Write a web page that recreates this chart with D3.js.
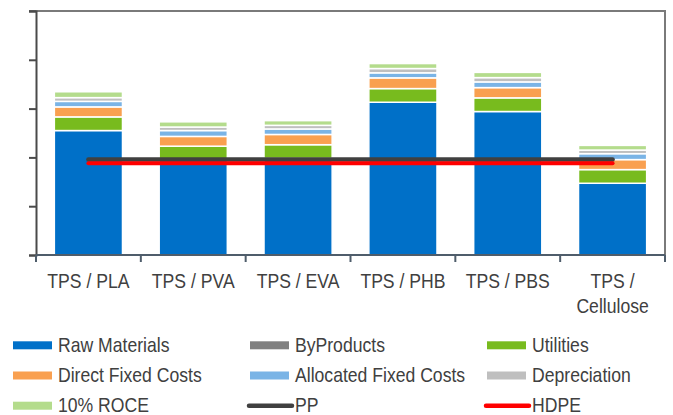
<!DOCTYPE html>
<html>
<head>
<meta charset="utf-8">
<script src="https://cdn.jsdelivr.net/npm/d3@7"></script>
<style>
  body { margin: 0; background: #fff; }
  text { font-family: "Liberation Sans", Arial, sans-serif; fill: #404040; }
</style>
</head>
<body>
<svg id="chart" width="673" height="415"></svg>
<script>
var categories = ["TPS / PLA", "TPS / PVA", "TPS / EVA", "TPS / PHB", "TPS / PBS", "TPS / Cellulose"];

var rawMaterials   = [2.55, 1.95, 1.98, 3.13, 2.94, 1.47];
var byProducts     = [0, 0, 0, 0, 0, 0];
var utilities      = [0.28, 0.28, 0.28, 0.28, 0.28, 0.28];
var directFixed    = [0.205, 0.20, 0.21, 0.22, 0.21, 0.205];
var allocatedFixed = [0.113, 0.12, 0.113, 0.103, 0.117, 0.121];
var depreciation   = [0.077, 0.072, 0.074, 0.088, 0.088, 0.074];
var roce           = [0.12, 0.107, 0.096, 0.102, 0.107, 0.096];

var pp   = [1.957, 1.957, 1.957, 1.957, 1.957, 1.957];
var hdpe = [1.881, 1.881, 1.881, 1.881, 1.881, 1.881];

var yTicks = [0, 1, 2, 3, 4, 5];

var series = [
  {key: "Raw Materials", values: rawMaterials, color: "#0070c8"},
  {key: "ByProducts", values: byProducts, color: "#808080"},
  {key: "Utilities", values: utilities, color: "#78bb1e"},
  {key: "Direct Fixed Costs", values: directFixed, color: "#f9a050"},
  {key: "Allocated Fixed Costs", values: allocatedFixed, color: "#7ab4e6"},
  {key: "Depreciation", values: depreciation, color: "#bfbfbf"},
  {key: "10% ROCE", values: roce, color: "#b4dc8c"}
];
var lines = [
  {key: "PP", values: pp, color: "#404040", width: 4.5},
  {key: "HDPE", values: hdpe, color: "#ff0000", width: 4}
];

var margin = {t: 11, r: 8, b: 160, l: 36};
var width = 673, height = 415;
var svg = d3.select("#chart");
var squeeze = 0.88; // narrow text look

var x = d3.scaleBand().domain(categories).range([margin.l, width - margin.r]).paddingInner(0.35).paddingOuter(0.175);
var y = d3.scaleLinear().domain([0, 5]).range([height - margin.b, margin.t]);

// rows for stacking
var rows = categories.map(function(c, i) {
  var r = {cat: c};
  series.forEach(function(s) { r[s.key] = s.values[i]; });
  return r;
});
var stacked = d3.stack().keys(series.map(function(s) { return s.key; }))(rows);

// frame (top + right)
svg.append("path")
  .attr("d", "M" + (margin.l - 7) + "," + y(5) + "H" + (width - margin.r) + "V" + y(0))
  .attr("fill", "none").attr("stroke", "#7a7a7a").attr("stroke-width", 2);

svg.selectAll(".layer").data(stacked).enter().append("g")
  .attr("class", "layer")
  .attr("fill", function(d, i) { return series[i].color; })
  .selectAll("rect").data(function(d) { return d; }).enter().append("rect")
  .attr("x", function(d) { return x(d.data.cat); })
  .attr("width", x.bandwidth())
  .attr("y", function(d) { return y(d[1]); })
  .attr("height", function(d) { return Math.max(0, y(d[0]) - y(d[1])); })
  .attr("stroke", "#fff").attr("stroke-width", function(d) { return d[1] - d[0] > 0 ? 1.5 : 0; });

// axes
var yAxis = svg.append("g").attr("transform", "translate(" + margin.l + ",0)")
  .call(d3.axisLeft(y).tickValues(yTicks).tickSize(7).tickFormat(""));
yAxis.selectAll("line, path").attr("stroke", "#4a4a4a").attr("stroke-width", 2);

var xTickPos = d3.range(categories.length + 1).map(function(i) { return margin.l + i * (width - margin.r - margin.l) / categories.length; });
var xAxis = svg.append("g");
xAxis.append("line").attr("x1", margin.l).attr("x2", width - margin.r).attr("y1", y(0)).attr("y2", y(0))
  .attr("stroke", "#4f5d6b").attr("stroke-width", 2);
xAxis.selectAll(".tk").data(xTickPos).enter().append("line")
  .attr("x1", function(d) { return d; }).attr("x2", function(d) { return d; })
  .attr("y1", y(0)).attr("y2", y(0) + 7)
  .attr("stroke", "#4f5d6b").attr("stroke-width", 2);

// category labels
var labelLines = {"TPS / Cellulose": ["TPS /", "Cellulose"]};
categories.forEach(function(c) {
  var parts = labelLines[c] || [c];
  var t = svg.append("text").attr("text-anchor", "middle").attr("font-size", 20)
    .attr("transform", "translate(" + (x(c) + x.bandwidth() / 2) + ",288) scale(" + squeeze + ",1)");
  parts.forEach(function(p, j) { t.append("tspan").attr("x", 0).attr("y", j * 25).text(p); });
});

// reference lines
lines.forEach(function(l) {
  svg.append("path")
    .datum(l.values)
    .attr("fill", "none").attr("stroke", l.color).attr("stroke-width", l.width)
    .attr("stroke-linecap", "round")
    .attr("d", d3.line()
      .x(function(d, i) { return x(categories[i]) + x.bandwidth() / 2; })
      .y(function(d) { return y(d); }));
});

// legend
var legendItems = series.map(function(s) { return {key: s.key, color: s.color, line: false}; })
  .concat(lines.map(function(l) { return {key: l.key, color: l.color, line: true}; }));
var colX = [13, 250, 487];
var legend = svg.selectAll(".leg").data(legendItems).enter().append("g")
  .attr("transform", function(d, i) { return "translate(" + colX[i % 3] + "," + (345.3 + Math.floor(i / 3) * 30.2) + ")"; });
legend.each(function(d) {
  var g = d3.select(this);
  if (d.line) {
    g.append("line").attr("x1", -1).attr("x2", 42).attr("y1", 0).attr("y2", 0)
      .attr("stroke", d.color).attr("stroke-width", 4.5).attr("stroke-linecap", "round");
  } else {
    g.append("rect").attr("x", 0).attr("y", -4).attr("width", 39).attr("height", 8).attr("fill", d.color);
  }
  g.append("text").attr("transform", "translate(45,6.5) scale(" + squeeze + ",1)")
    .attr("font-size", 20).text(d.key);
});
</script>
</body>
</html>
